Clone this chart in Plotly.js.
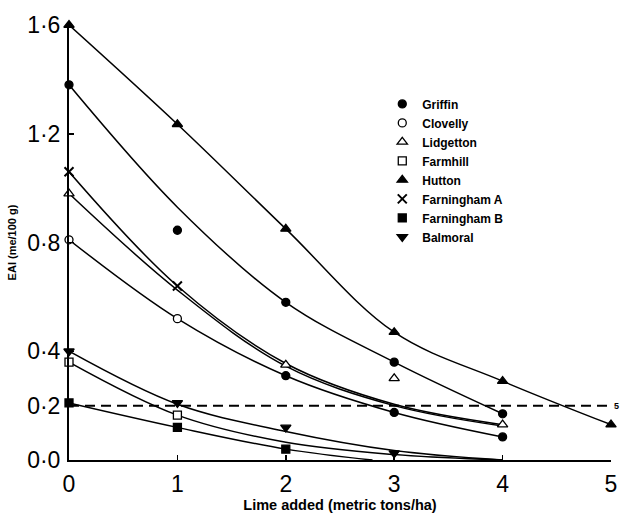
<!DOCTYPE html>
<html>
<head>
<meta charset="utf-8">
<script src="https://cdn.plot.ly/plotly-3.0.1.min.js"></script>
<style>html,body{margin:0;padding:0;background:#fff;}#chart{width:622px;height:514px;}</style>
</head>
<body>
<div id="chart"></div>
<script>
// ---- data ----
const lime = [0, 1, 2, 3, 4, 5];

// measured points (markers)
const griffinX = [0, 1, 2, 3, 4];
const griffinY = [1.38, 0.845, 0.58, 0.36, 0.17];
const clovellyX = [0, 1, 2, 3, 4];
const clovellyY = [0.81, 0.52, 0.31, 0.175, 0.085];
const lidgettonX = [0, 2, 3, 4];
const lidgettonY = [0.98, 0.35, 0.30, 0.13];
const farmhillX = [0, 1];
const farmhillY = [0.36, 0.165];
const huttonX = [0, 1, 2, 3, 4, 5];
const huttonY = [1.6, 1.235, 0.85, 0.47, 0.29, 0.13];
const farnAX = [0, 1];
const farnAY = [1.06, 0.64];
const farnBX = [0, 1, 2];
const farnBY = [0.21, 0.12, 0.04];
const balmoralX = [0, 1, 2, 3];
const balmoralY = [0.4, 0.21, 0.12, 0.025];

// fitted curves (lines)
const huttonCurveX = [0, 1, 2, 3, 4, 5];
const huttonCurveY = [1.6, 1.235, 0.85, 0.47, 0.29, 0.13];
const griffinCurveX = [0, 1, 2, 3, 4];
const griffinCurveY = [1.38, 0.93, 0.58, 0.36, 0.17];
const farnACurveX = [0, 1, 2, 3, 4];
const farnACurveY = [1.06, 0.64, 0.355, 0.205, 0.13];
const lidgettonCurveX = [0, 1, 2, 3, 4];
const lidgettonCurveY = [0.98, 0.625, 0.345, 0.2, 0.125];
const clovellyCurveX = [0, 1, 2, 3, 4];
const clovellyCurveY = [0.81, 0.52, 0.31, 0.175, 0.085];
const balmoralCurveX = [0, 1, 2, 3, 4];
const balmoralCurveY = [0.4, 0.205, 0.105, 0.035, 0.0];
const farmhillCurveX = [0, 1, 2, 3, 4];
const farmhillCurveY = [0.36, 0.165, 0.065, 0.02, 0.0];
const farnBCurveX = [0, 1, 2, 2.8];
const farnBCurveY = [0.21, 0.12, 0.04, 0.0];

const threshold = 0.2;
const thresholdLabel = "5";

const yTickVals = [0, 0.2, 0.4, 0.8, 1.2, 1.6];
const yTickText = ["0·0", "0·2", "0·4", "0·8", "1·2", "1·6"];
const xTickVals = [0, 1, 2, 3, 4, 5];
const xTickText = ["0", "1", "2", "3", "4", "5"];

// ---- traces ----
const lineStyle = {color: "#000", width: 1.5, shape: "spline", smoothing: 1};
function curve(x, y) {
  return {x: x, y: y, type: "scatter", mode: "lines", line: lineStyle,
          showlegend: false, hoverinfo: "skip", cliponaxis: false};
}
function pts(name, x, y, symbol, fill, size) {
  return {x: x, y: y, name: name, type: "scatter", mode: "markers", cliponaxis: false,
          marker: {symbol: symbol, size: size, color: fill,
                   line: {color: "#000", width: 1.3}}};
}

const data = [
  curve(huttonCurveX, huttonCurveY),
  curve(griffinCurveX, griffinCurveY),
  curve(farnACurveX, farnACurveY),
  curve(lidgettonCurveX, lidgettonCurveY),
  curve(clovellyCurveX, clovellyCurveY),
  curve(balmoralCurveX, balmoralCurveY),
  curve(farmhillCurveX, farmhillCurveY),
  curve(farnBCurveX, farnBCurveY),
  pts("Griffin", griffinX, griffinY, "circle", "#000", 8),
  pts("Clovelly", clovellyX, clovellyY, "circle", ["#fff", "#fff", "#000", "#000", "#000"], 8),
  pts("Lidgetton", lidgettonX, lidgettonY, "triangle-up", "#fff", 9),
  pts("Farmhill", farmhillX, farmhillY, "square", "#fff", 8),
  pts("Hutton", huttonX, huttonY, "triangle-up", "#000", 9),
  pts("Farningham A", farnAX, farnAY, "x-thin", "#000", 9),
  pts("Farningham B", farnBX, farnBY, "square", "#000", 8),
  pts("Balmoral", balmoralX, balmoralY, "triangle-down", "#000", 9)
];
data[13].marker.line = {color: "#000", width: 2};

const layout = {
  width: 622, height: 514,
  margin: {l: 69, r: 11, t: 25, b: 54},
  paper_bgcolor: "#fff", plot_bgcolor: "#fff",
  font: {family: "Liberation Sans, Arial, sans-serif", color: "#000"},
  showlegend: true,
  legend: {x: 0.578, y: 0.852, xanchor: "left", yanchor: "top",
           font: {size: 12, weight: "bold", family: "Liberation Sans, Arial, sans-serif"},
           bgcolor: "rgba(0,0,0,0)", borderwidth: 0, itemwidth: 30, tracegroupgap: 0},
  xaxis: {range: [0, 5], showgrid: false, zeroline: false,
          showline: true, linecolor: "#000", linewidth: 2,
          ticks: "inside", ticklen: 5, tickwidth: 1.5, tickcolor: "#000",
          tickvals: xTickVals, ticktext: xTickText,
          tickfont: {size: 23}, ticklabelstandoff: 2,
          title: {text: "Lime added (metric tons/ha)", standoff: 4,
                  font: {size: 14.5, weight: "bold"}}},
  yaxis: {range: [0, 1.6], showgrid: false, zeroline: false,
          showline: true, linecolor: "#000", linewidth: 2,
          ticks: "inside", ticklen: 5, tickwidth: 1.5, tickcolor: "#000",
          tickvals: yTickVals, ticktext: yTickText,
          tickfont: {size: 23}, ticklabelstandoff: 2,
          title: {text: "EAI (me/100 g)", standoff: 8,
                  font: {size: 11, weight: "bold"}}},
  shapes: [{type: "line", xref: "paper", x0: 0, x1: 1, yref: "y", y0: threshold, y1: threshold,
            line: {color: "#000", width: 2, dash: "10px,6px"}}],
  annotations: [{xref: "paper", x: 1, xanchor: "left", yref: "y", y: threshold, yanchor: "middle",
                 text: thresholdLabel, showarrow: false, font: {size: 9, weight: "bold"}, xshift: 1}]
};

Plotly.newPlot("chart", data, layout, {displayModeBar: false, staticPlot: true});
</script>
</body>
</html>
